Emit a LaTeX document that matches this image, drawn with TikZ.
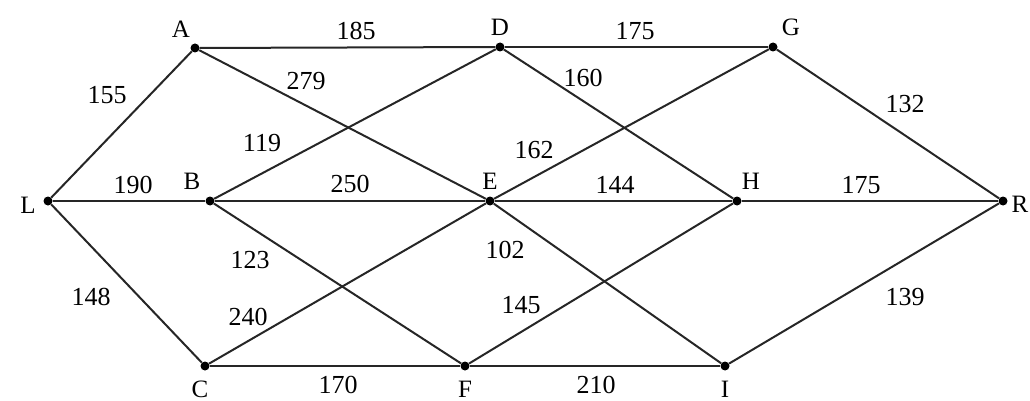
\documentclass[tikz,border=0pt]{standalone}
\usepackage{fontspec}
\setmainfont{Liberation Serif}
\begin{document}
\begin{tikzpicture}[x=1pt,y=-1pt,
  vertex/.style={circle,fill=black,inner sep=0pt,minimum size=9pt},
  edge/.style={line width=2pt,draw=black!85},
  lbl/.style={inner sep=0pt,font=\fontsize{25}{25}\selectfont},
  wt/.style={inner sep=0pt,font=\fontsize{26}{26}\selectfont}]
\useasboundingbox (0,0) rectangle (1030,401);
\node[vertex] (L) at (48,201) {};
\node[vertex] (A) at (195,48) {};
\node[vertex] (B) at (210,201) {};
\node[vertex] (C) at (205,366) {};
\node[vertex] (D) at (500,47) {};
\node[vertex] (E) at (490,201) {};
\node[vertex] (F) at (465,366) {};
\node[vertex] (G) at (773,47) {};
\node[vertex] (H) at (737,201) {};
\node[vertex] (I) at (725,366) {};
\node[vertex] (R) at (1003,201) {};
\draw[edge] (L) -- (A); \draw[edge] (L) -- (B); \draw[edge] (L) -- (C);
\draw[edge] (A) -- (D); \draw[edge] (A) -- (E);
\draw[edge] (B) -- (D); \draw[edge] (B) -- (E); \draw[edge] (B) -- (F);
\draw[edge] (C) -- (E); \draw[edge] (C) -- (F);
\draw[edge] (D) -- (G); \draw[edge] (D) -- (H);
\draw[edge] (E) -- (G); \draw[edge] (E) -- (H); \draw[edge] (E) -- (I);
\draw[edge] (F) -- (H); \draw[edge] (F) -- (I);
\draw[edge] (G) -- (R); \draw[edge] (H) -- (R); \draw[edge] (I) -- (R);
\node[lbl] (tL) at (28,205) {L};
\node[lbl] (tA) at (181,29) {A};
\node[lbl] (tB) at (192,181) {B};
\node[lbl] (tC) at (200,389) {C};
\node[lbl] (tD) at (500,27) {D};
\node[lbl] (tE) at (490,181) {E};
\node[lbl] (tF) at (465,389) {F};
\node[lbl] (tG) at (791,27) {G};
\node[lbl] (tH) at (751,181) {H};
\node[lbl] (tI) at (725,389) {I};
\node[lbl] (tR) at (1020,204) {R};
\node[wt] (w155) at (107,95) {155};
\node[wt] (w190) at (133,185) {190};
\node[wt] (w148) at (91,297) {148};
\node[wt] (w185) at (356,31) {185};
\node[wt] (w279) at (306,81) {279};
\node[wt] (w119) at (262,143) {119};
\node[wt] (w250) at (350,184) {250};
\node[wt] (w123) at (250,260) {123};
\node[wt] (w240) at (248,317) {240};
\node[wt] (w170) at (338,385) {170};
\node[wt] (w175a) at (635,31) {175};
\node[wt] (w160) at (583,78) {160};
\node[wt] (w162) at (534,150) {162};
\node[wt] (w144) at (615,185) {144};
\node[wt] (w102) at (505,250) {102};
\node[wt] (w145) at (521,305) {145};
\node[wt] (w210) at (596,385) {210};
\node[wt] (w132) at (905,104) {132};
\node[wt] (w175b) at (861,185) {175};
\node[wt] (w139) at (905,297) {139};
\end{tikzpicture}
\end{document}
